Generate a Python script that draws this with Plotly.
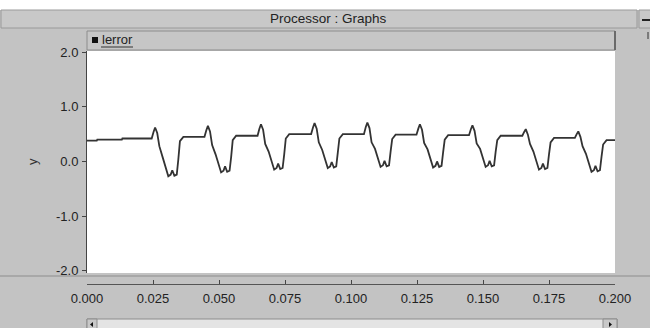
import plotly.graph_objects as go

# ---- data ----
t_start = [0.0, 0.0037, 0.0039, 0.0132, 0.0134]
y_start = [0.38, 0.38, 0.40, 0.40, 0.42]

t_c1 = [0.0245, 0.0252, 0.0258, 0.0266, 0.0274, 0.0287, 0.0299, 0.0308, 0.0317, 0.0323, 0.0331, 0.0340, 0.0346, 0.0352, 0.0365]
y_c1 = [0.42, 0.54, 0.62, 0.52, 0.28, 0.07, -0.15, -0.27, -0.24, -0.16, -0.26, -0.24, 0.04, 0.37, 0.45]
t_c2 = [0.0445, 0.0452, 0.0458, 0.0466, 0.0474, 0.0487, 0.0499, 0.0508, 0.0517, 0.0523, 0.0531, 0.0540, 0.0546, 0.0552, 0.0565]
y_c2 = [0.45, 0.57, 0.65, 0.55, 0.30, 0.13, -0.08, -0.20, -0.17, -0.09, -0.19, -0.17, 0.08, 0.39, 0.47]
t_c3 = [0.0646, 0.0653, 0.0659, 0.0667, 0.0675, 0.0688, 0.0700, 0.0709, 0.0718, 0.0724, 0.0732, 0.0741, 0.0747, 0.0753, 0.0766]
y_c3 = [0.47, 0.60, 0.68, 0.58, 0.32, 0.18, -0.03, -0.15, -0.12, -0.04, -0.14, -0.12, 0.13, 0.42, 0.50]
t_c4 = [0.0849, 0.0856, 0.0862, 0.0870, 0.0878, 0.0891, 0.0903, 0.0912, 0.0921, 0.0927, 0.0935, 0.0944, 0.0950, 0.0956, 0.0969]
y_c4 = [0.50, 0.62, 0.70, 0.60, 0.35, 0.21, 0.00, -0.12, -0.09, -0.01, -0.11, -0.09, 0.16, 0.42, 0.50]
t_c5 = [0.1049, 0.1056, 0.1062, 0.1070, 0.1078, 0.1091, 0.1103, 0.1112, 0.1121, 0.1127, 0.1135, 0.1144, 0.1150, 0.1156, 0.1169]
y_c5 = [0.50, 0.63, 0.71, 0.61, 0.35, 0.23, 0.02, -0.10, -0.07, 0.01, -0.09, -0.07, 0.18, 0.41, 0.49]
t_c6 = [0.1248, 0.1255, 0.1261, 0.1269, 0.1277, 0.1290, 0.1302, 0.1311, 0.1320, 0.1326, 0.1334, 0.1343, 0.1349, 0.1355, 0.1368]
y_c6 = [0.49, 0.60, 0.68, 0.58, 0.34, 0.22, 0.01, -0.11, -0.08, 0.00, -0.10, -0.08, 0.17, 0.40, 0.48]
t_c7 = [0.1447, 0.1454, 0.1460, 0.1468, 0.1476, 0.1489, 0.1501, 0.1510, 0.1519, 0.1525, 0.1533, 0.1542, 0.1548, 0.1554, 0.1567]
y_c7 = [0.48, 0.59, 0.66, 0.56, 0.33, 0.23, 0.02, -0.10, -0.07, 0.01, -0.09, -0.07, 0.18, 0.39, 0.47]
t_c8 = [0.1649, 0.1656, 0.1662, 0.1670, 0.1678, 0.1691, 0.1703, 0.1712, 0.1721, 0.1727, 0.1735, 0.1744, 0.1750, 0.1756, 0.1769]
y_c8 = [0.47, 0.54, 0.59, 0.49, 0.32, 0.18, -0.03, -0.15, -0.12, -0.04, -0.14, -0.12, 0.13, 0.35, 0.43]
t_c9 = [0.1848, 0.1855, 0.1861, 0.1869, 0.1877, 0.1890, 0.1902, 0.1911, 0.1920, 0.1926, 0.1934, 0.1943, 0.1949, 0.1955, 0.1968]
y_c9 = [0.43, 0.50, 0.55, 0.45, 0.28, 0.14, -0.07, -0.19, -0.16, -0.08, -0.18, -0.16, 0.09, 0.31, 0.39]
t_end = [0.2]
y_end = [0.39]

x_ticks = [0.0, 0.025, 0.05, 0.075, 0.1, 0.125, 0.15, 0.175, 0.2]
x_ticklabels = ["0.000", "0.025", "0.050", "0.075", "0.100", "0.125", "0.150", "0.175", "0.200"]
y_ticks = [-2, -1, 0, 1, 2]
y_ticklabels = ["-2.0", "-1.0", "0.0", "1.0", "2.0"]

t_all = t_start + t_c1 + t_c2 + t_c3 + t_c4 + t_c5 + t_c6 + t_c7 + t_c8 + t_c9 + t_end
y_all = y_start + y_c1 + y_c2 + y_c3 + y_c4 + y_c5 + y_c6 + y_c7 + y_c8 + y_c9 + y_end

# ---- geometry (pixels) ----
W, H = 650, 328
ML, MR, MT, MB = 87, 35, 51, 44
PW, PH = W - ML - MR, H - MT - MB


def px(x):
    return (x - ML) / PW


def py(y):
    return (H - MB - y) / PH


BG = "#c3c3c3"
FONT = "Liberation Sans, Arial, sans-serif"
FS = 13

fig = go.Figure()
fig.add_trace(go.Scatter(x=t_all, y=y_all, mode="lines", name="lerror",
                         line=dict(color="#333333", width=1.8), showlegend=False))

shapes = []
# top white strip
shapes.append(dict(type="rect", xref="paper", yref="paper", x0=px(-2), x1=px(W + 2), y0=py(-2), y1=py(10),
                   fillcolor="#ffffff", line=dict(width=0), layer="below"))
# title bar
shapes.append(dict(type="rect", xref="paper", yref="paper", x0=px(1), x1=px(637), y0=py(10), y1=py(28),
                   fillcolor="#c8c8c8", line=dict(color="#9a9a9a", width=1), layer="below"))
# close button area
shapes.append(dict(type="rect", xref="paper", yref="paper", x0=px(639), x1=px(W + 2), y0=py(10), y1=py(28),
                   fillcolor="#c8c8c8", line=dict(color="#9a9a9a", width=1), layer="below"))
shapes.append(dict(type="line", xref="paper", yref="paper", x0=px(642), x1=px(650), y0=py(20), y1=py(20),
                   line=dict(color="#222222", width=2)))
# legend bar
shapes.append(dict(type="rect", xref="paper", yref="paper", x0=px(87), x1=px(615), y0=py(31), y1=py(50),
                   fillcolor="#c6c6c6", line=dict(color="#8c8c8c", width=1), layer="below"))
shapes.append(dict(type="line", xref="paper", yref="paper", x0=px(615), x1=px(615), y0=py(31), y1=py(50),
                   line=dict(color="#6a6a6a", width=2)))
shapes.append(dict(type="rect", xref="paper", yref="paper", x0=px(92), x1=px(98), y0=py(37), y1=py(43),
                   fillcolor="#111111", line=dict(width=0)))
# underline of legend text
shapes.append(dict(type="line", xref="paper", yref="paper", x0=px(101), x1=px(133), y0=py(47), y1=py(47),
                   line=dict(color="#333333", width=1)))
# small mark on right
shapes.append(dict(type="line", xref="paper", yref="paper", x0=px(648), x1=px(648), y0=py(32), y1=py(39),
                   line=dict(color="#333333", width=1)))
# shadow under white panel
shapes.append(dict(type="line", xref="paper", yref="paper", x0=px(0), x1=px(W), y0=py(276), y1=py(276),
                   line=dict(color="#a8a8a8", width=2)))
# scrollbar
shapes.append(dict(type="rect", xref="paper", yref="paper", x0=px(87), x1=px(617), y0=py(319), y1=py(330),
                   fillcolor="#e4e4e4", line=dict(color="#8c8c8c", width=1), layer="below"))
shapes.append(dict(type="rect", xref="paper", yref="paper", x0=px(87), x1=px(97), y0=py(319), y1=py(330),
                   fillcolor="#c8c8c8", line=dict(color="#8c8c8c", width=1)))
shapes.append(dict(type="rect", xref="paper", yref="paper", x0=px(603), x1=px(617), y0=py(319), y1=py(330),
                   fillcolor="#c8c8c8", line=dict(color="#8c8c8c", width=1)))
shapes.append(dict(type="path", xref="paper", yref="paper",
                   path="M {a},{b} L {c},{d} L {c},{e} Z".format(a=px(90), b=py(324.5), c=px(93), d=py(322), e=py(327)),
                   fillcolor="#111111", line=dict(width=0)))
shapes.append(dict(type="path", xref="paper", yref="paper",
                   path="M {a},{b} L {c},{d} L {c},{e} Z".format(a=px(612), b=py(324.5), c=px(609), d=py(322), e=py(327)),
                   fillcolor="#111111", line=dict(width=0)))

annotations = [
    dict(text="Processor : Graphs", xref="paper", yref="paper", x=px(328), y=py(19),
         showarrow=False, font=dict(family=FONT, size=13.5, color="#222222"), xanchor="center", yanchor="middle"),
    dict(text="lerror", xref="paper", yref="paper", x=px(100), y=py(40),
         showarrow=False, font=dict(family=FONT, size=FS, color="#222222"), xanchor="left", yanchor="middle"),
    dict(text="y", xref="paper", yref="paper", x=px(32), y=py(162), textangle=-90,
         showarrow=False, font=dict(family=FONT, size=FS, color="#333333"), xanchor="center", yanchor="middle"),
]

fig.update_layout(
    width=W, height=H,
    margin=dict(l=ML, r=MR, t=MT, b=MB, pad=0),
    paper_bgcolor=BG, plot_bgcolor="#ffffff",
    font=dict(family=FONT, size=FS, color="#222222"),
    showlegend=False,
    shapes=shapes, annotations=annotations,
    xaxis=dict(range=[0, 0.2], anchor="free", position=0, tickvals=x_ticks, ticktext=x_ticklabels,
               ticks="inside", ticklen=4, tickcolor="#444444", showline=True, linecolor="#555555",
               linewidth=1, showgrid=False, zeroline=False, fixedrange=True, ticklabelstandoff=2,
               tickfont=dict(family=FONT, size=FS, color="#222222")),
    yaxis=dict(range=[-2.04, 2.02], domain=[(284 - 273) / PH, 1], tickvals=y_ticks, ticktext=y_ticklabels,
               ticks="outside", ticklen=4, tickcolor="#444444", showline=True, linecolor="#444444",
               linewidth=1, showgrid=False, zeroline=False, fixedrange=True, ticklabelstandoff=1,
               tickfont=dict(family=FONT, size=FS, color="#222222")),
)

fig.write_html("out.html", config={"displayModeBar": False},
               post_script="document.body.style.margin='0';document.body.style.overflow='hidden';")
